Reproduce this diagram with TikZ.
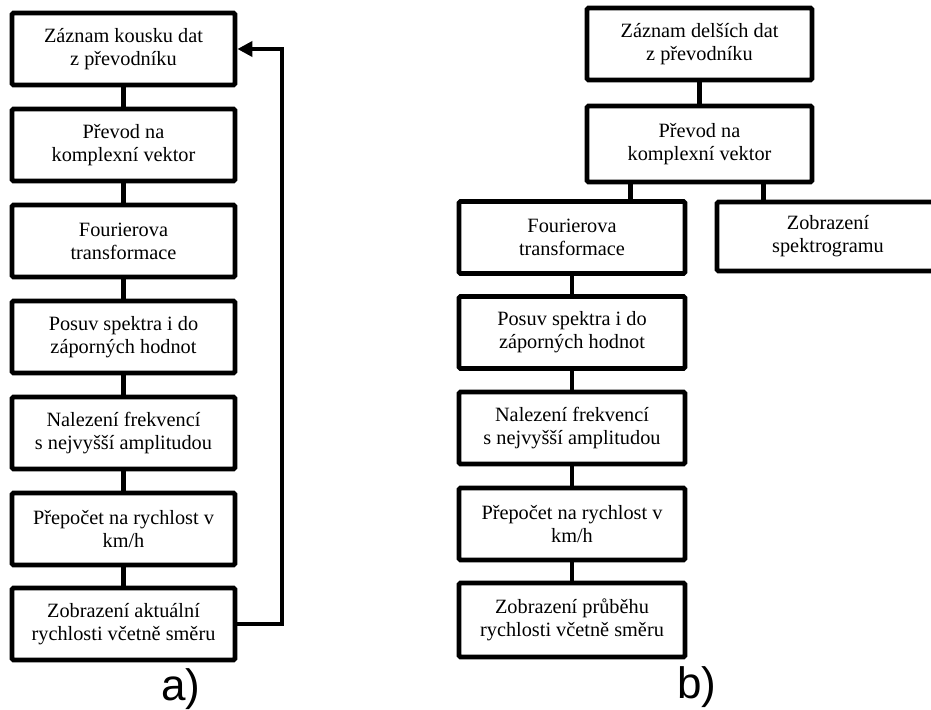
\documentclass[tikz,border=0pt]{standalone}
\usepackage{fontspec}
\setmainfont{Liberation Serif}
\newfontfamily\labfont{Liberation Sans}
\usetikzlibrary{arrows.meta,calc}
\begin{document}
\begin{tikzpicture}[x=1pt,y=-1pt,
  blk/.style={draw,line width=4.8pt,rounded corners=1.5pt,align=center,
    minimum width=223pt,minimum height=72pt,inner sep=0pt,
    font=\fontsize{20.3}{23}\selectfont},
  conn/.style={line width=4.8pt},
  lab/.style={font=\labfont\fontsize{44}{48}\selectfont,inner sep=0pt}]
\useasboundingbox (0,0) rectangle (931,709);
\clip (0,0) rectangle (931,709);
% left column
\node[blk] (a1) at (123.5,49) {Záznam kousku dat\\z převodníku};
\node[blk] (a2) at (123.5,145) {Převod na\\komplexní vektor};
\node[blk] (a3) at (123.5,241) {Fourierova\\transformace};
\node[blk] (a4) at (123.5,337) {Posuv spektra i do\\záporných hodnot};
\node[blk] (a5) at (123.5,433) {Nalezení frekvencí\\s nejvyšší amplitudou};
\node[blk] (a6) at (123.5,529) {Přepočet na rychlost v\\km/h};
\node[blk] (a7) at (123.5,624) {Zobrazení aktuální\\rychlosti včetně směru};
\foreach \u/\v in {a1/a2,a2/a3,a3/a4,a4/a5,a5/a6,a6/a7}
  \draw[conn] (\u.south) -- (\v.north);
\coordinate (loopx) at (282,0);
\draw[conn,-{Triangle[length=15pt,width=15pt]}] (a7.east) -- (a7.east -| loopx) -- (a1.east -| loopx) -- (a1.east);
\node[lab] (la) at (181,689) {a)};
% right column
\node[blk,minimum width=225pt] (b1) at (699.5,44) {Záznam delších dat\\z převodníku};
\node[blk,minimum width=225pt,minimum height=76pt] (b2) at (699.5,144) {Převod na\\komplexní vektor};
\node[blk,minimum width=226pt] (b3) at (572,237.5) {Fourierova\\transformace};
\node[blk,minimum width=222pt,minimum height=69pt] (s1) at (828,236.5) {Zobrazení\\spektrogramu};
\node[blk,minimum width=226pt] (b4) at (572,332.5) {Posuv spektra i do\\záporných hodnot};
\node[blk,minimum width=226pt] (b5) at (572,428) {Nalezení frekvencí\\s nejvyšší amplitudou};
\node[blk,minimum width=226pt] (b6) at (572,524) {Přepočet na rychlost v\\km/h};
\node[blk,minimum width=226pt,minimum height=74pt] (b7) at (572,620) {Zobrazení průběhu\\rychlosti včetně směru};
\draw[conn] (b1.south) -- (b2.north);
\coordinate (c1) at ($(b2.south west)!0.2!(b2.south east)$);
\coordinate (c2) at ($(b2.south west)!0.78!(b2.south east)$);
\draw[conn] (c1) -- (c1 |- b3.north);
\draw[conn] (c2) -- (c2 |- s1.north);
\foreach \u/\v in {b3/b4,b4/b5,b5/b6,b6/b7}
  \draw[conn] (\u.south) -- (\v.north);
\node[lab] (lb) at (697,687) {b)};
\end{tikzpicture}
\end{document}
